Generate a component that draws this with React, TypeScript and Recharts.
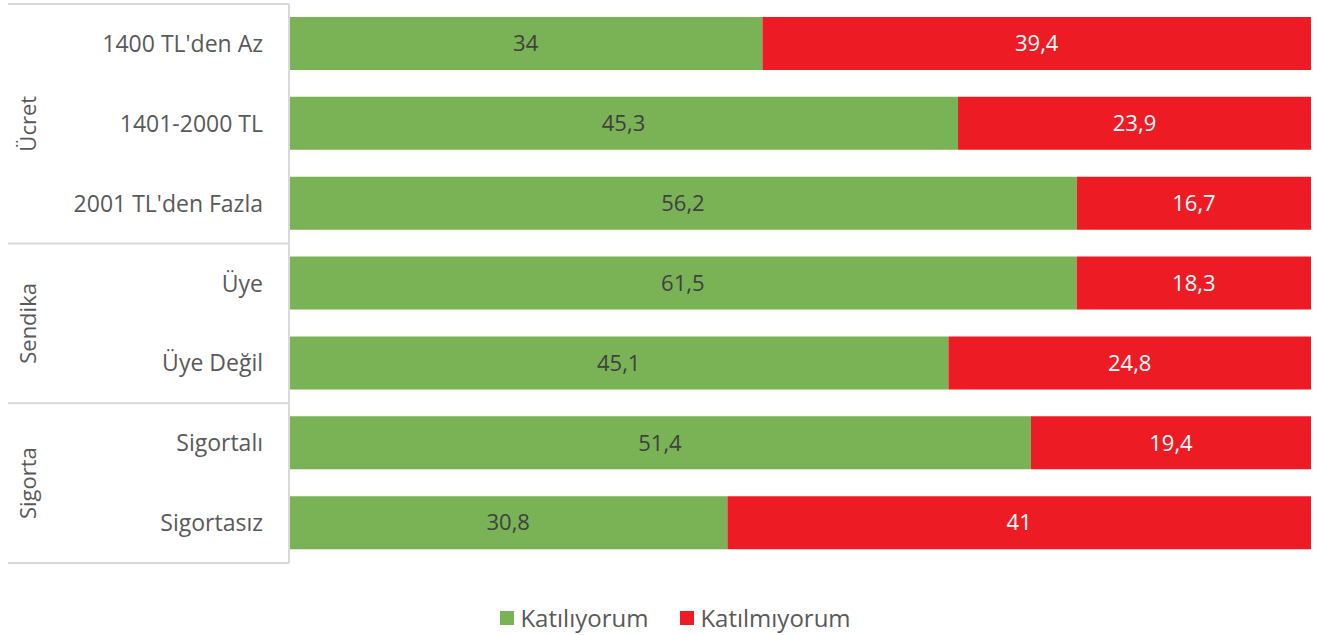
import { BarChart, Bar, XAxis, YAxis, Legend, LabelList } from "recharts";

const categories = [
  "1400 TL'den Az",
  "1401-2000 TL",
  "2001 TL'den Fazla",
  "Üye",
  "Üye Değil",
  "Sigortalı",
  "Sigortasız",
];
const groups = [
  { name: "Ücret", start: 0, count: 3 },
  { name: "Sendika", start: 3, count: 2 },
  { name: "Sigorta", start: 5, count: 2 },
];
const katiliyorum = [34, 45.3, 56.2, 61.5, 45.1, 51.4, 30.8];
const katilmiyorum = [39.4, 23.9, 16.7, 18.3, 24.8, 19.4, 41];

const data = categories.map((name, i) => ({
  name,
  katiliyorum: katiliyorum[i],
  katilmiyorum: katilmiyorum[i],
}));

const FONT = "'Open Sans', sans-serif";
const GRID = "#d9d9d9";
const TEXT = "#595959";

const fmt = (v: any) => String(v).replace(".", ",");

// category tick plus the group brackets on the left
function GroupTick(props: any) {
  const { x, y, payload, index } = props;
  const half = payload?.offset ?? 40;
  const axisX = x + 26;
  const g = groups.find((gr) => gr.start === index);
  const last = index === categories.length - 1;
  return (
    <g>
      <text x={x} y={y} dy={8} textAnchor="end" fill={TEXT} fontSize={23} fontFamily={FONT}>
        {payload.value}
      </text>
      {g && (
        <>
          <line x1={8} x2={axisX} y1={y - half} y2={y - half} stroke={GRID} strokeWidth={2} />
          <text
            x={0}
            y={0}
            transform={`translate(36, ${y + (g.count - 1) * half}) rotate(-90)`}
            textAnchor="middle"
            fill={TEXT}
            fontSize={22}
            fontFamily={FONT}
          >
            {g.name}
          </text>
        </>
      )}
      {last && <line x1={8} x2={axisX} y1={y + half} y2={y + half} stroke={GRID} strokeWidth={2} />}
    </g>
  );
}

function LegendRow(props: any) {
  const items = [...(props.payload || [])].sort((a: any, b: any) =>
    String(a.dataKey).localeCompare(String(b.dataKey))
  );
  return (
    <div
      style={{
        display: "flex",
        justifyContent: "center",
        gap: 32,
        height: 30,
        lineHeight: "30px",
        fontFamily: FONT,
        fontSize: 24,
        color: TEXT,
      }}
    >
      {items.map((it: any) => (
        <div key={it.value} style={{ display: "flex", alignItems: "center", gap: 6 }}>
          <span style={{ width: 14, height: 14, background: it.color, display: "inline-block" }} />
          <span>{it.value}</span>
        </div>
      ))}
    </div>
  );
}

export default function App() {
  return (
    <div style={{ position: "absolute", left: 0, top: 0, background: "#fff" }}>
      <BarChart
        width={1317}
        height={635}
        data={data}
        layout="vertical"
        stackOffset="expand"
        margin={{ top: 4, right: 6, bottom: 42, left: 0 }}
      >
        <XAxis type="number" hide domain={[0, 1]} />
        <YAxis
          type="category"
          dataKey="name"
          width={289}
          tickLine={false}
          tickSize={0}
          tickMargin={26}
          axisLine={{ stroke: GRID, strokeWidth: 2 }}
          tick={<GroupTick />}
          interval={0}
        />
        <Legend
          verticalAlign="bottom"
          content={<LegendRow />}
          wrapperStyle={{ bottom: 2, left: 20, height: 30 }}
        />
        <Bar dataKey="katiliyorum" name="Katılıyorum" stackId="a" fill="#7ab356" barSize={53} isAnimationActive={false}>
          <LabelList dataKey="katiliyorum" position="center" formatter={fmt} fill="#404040" fontSize={22} fontFamily={FONT} />
        </Bar>
        <Bar dataKey="katilmiyorum" name="Katılmıyorum" stackId="a" fill="#ed1c24" barSize={53} isAnimationActive={false}>
          <LabelList dataKey="katilmiyorum" position="center" formatter={fmt} fill="#ffffff" fontSize={22} fontFamily={FONT} />
        </Bar>
      </BarChart>
    </div>
  );
}
